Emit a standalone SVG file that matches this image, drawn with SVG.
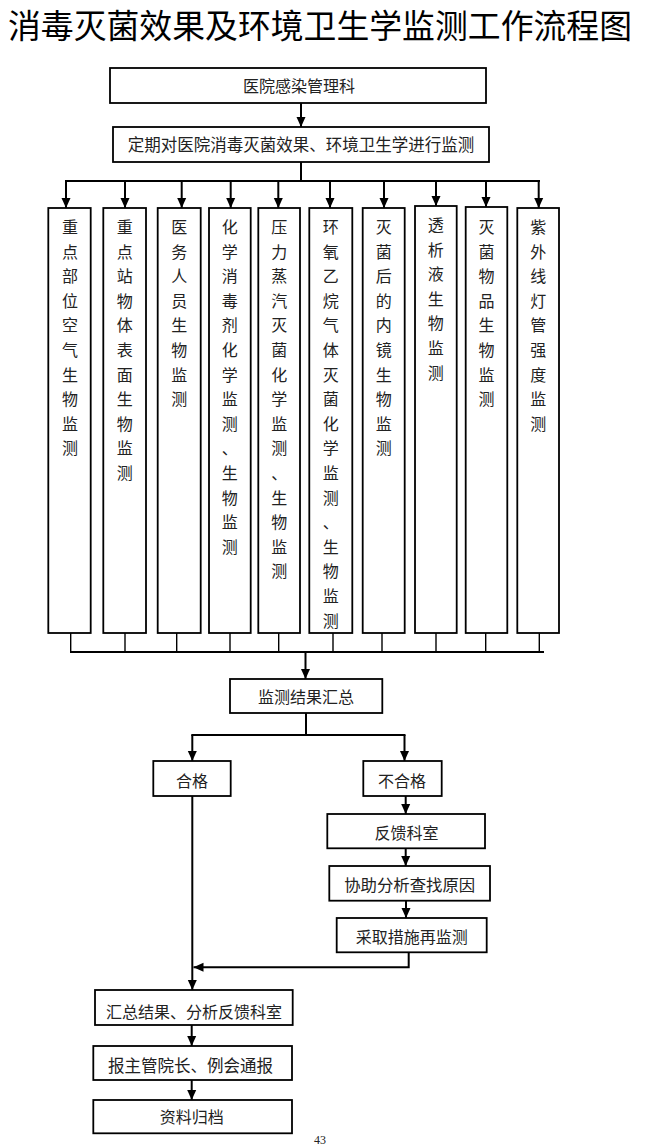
<svg xmlns="http://www.w3.org/2000/svg" width="647" height="1146" viewBox="0 0 647 1146">
<defs>
<marker id="ah" markerUnits="userSpaceOnUse" markerWidth="10" markerHeight="10" refX="10" refY="5" orient="auto"><path d="M0,0.5 L10,5 L0,9.5 z" fill="#000"/></marker>
<style>
.box{fill:#fff;stroke:#000;stroke-width:1.8}
.t{font-family:"Liberation Serif","Noto Sans CJK SC",serif;font-size:16px;fill:#222;text-anchor:middle}
.v{font-family:"Liberation Serif","Noto Sans CJK SC",serif;font-size:16px;fill:#222;text-anchor:middle}
.c{fill:none;stroke:#000;stroke-width:2}
.a{fill:none;stroke:#000;stroke-width:2;marker-end:url(#ah)}
.s{fill:none;stroke:#000;stroke-width:1.4}
</style>
</defs>
<rect width="647" height="1146" fill="#fff"/>
<text x="8" y="38" textLength="624" lengthAdjust="spacingAndGlyphs" style="font-family:'Noto Sans CJK SC',sans-serif;font-size:33px;fill:#000">消毒灭菌效果及环境卫生学监测工作流程图</text>

<g id="connectors">
<line class="a" x1="301" y1="103" x2="301" y2="127"/>
<line class="c" x1="301" y1="162" x2="301" y2="181"/>
<line class="c" x1="65" y1="181" x2="540" y2="181"/>
<line class="a" x1="66" y1="181" x2="66" y2="208"/>
<line class="a" x1="125" y1="181" x2="125" y2="208"/>
<line class="a" x1="181.7" y1="181" x2="181.7" y2="208"/>
<line class="a" x1="230.7" y1="181" x2="230.7" y2="208"/>
<line class="a" x1="278.3" y1="181" x2="278.3" y2="208"/>
<line class="a" x1="330" y1="181" x2="330" y2="208"/>
<line class="a" x1="384" y1="181" x2="384" y2="208"/>
<line class="a" x1="436" y1="181" x2="436" y2="206"/>
<line class="a" x1="486" y1="181" x2="486" y2="207"/>
<line class="a" x1="538.7" y1="181" x2="538.7" y2="208"/>
<line class="s" x1="70.7" y1="633" x2="70.7" y2="652"/>
<line class="s" x1="125" y1="633" x2="125" y2="652"/>
<line class="s" x1="176.7" y1="633" x2="176.7" y2="652"/>
<line class="s" x1="230" y1="633" x2="230" y2="652"/>
<line class="s" x1="278.7" y1="633" x2="278.7" y2="652"/>
<line class="s" x1="333" y1="633" x2="333" y2="652"/>
<line class="s" x1="382" y1="633" x2="382" y2="652"/>
<line class="s" x1="436" y1="633" x2="436" y2="652"/>
<line class="s" x1="485.7" y1="633" x2="485.7" y2="652"/>
<line class="s" x1="539.3" y1="633" x2="539.3" y2="652"/>
<line class="c" x1="70" y1="652" x2="544" y2="652"/>
<line class="a" x1="305.5" y1="652" x2="305.5" y2="679"/>
<line class="c" x1="306" y1="713" x2="306" y2="735"/>
<line class="c" x1="191.3" y1="735" x2="405.5" y2="735"/>
<line class="a" x1="192.3" y1="735" x2="192.3" y2="761"/>
<line class="a" x1="404.5" y1="735" x2="404.5" y2="761"/>
<line class="a" x1="405.7" y1="796" x2="405.7" y2="814"/>
<line class="a" x1="405.7" y1="848" x2="405.7" y2="866"/>
<line class="a" x1="406" y1="901" x2="406" y2="918"/>
<polyline class="a" points="408.7,952 408.7,967.3 193.5,967.3"/>
<line class="a" x1="192.3" y1="796" x2="192.3" y2="990"/>
<line class="a" x1="191.7" y1="1025" x2="191.7" y2="1046"/>
<line class="a" x1="191.7" y1="1080" x2="191.7" y2="1100"/>
</g>

<g id="n-dept"><rect class="box" x="110" y="68" width="376" height="35"/><text class="t" x="299" y="92">医院感染管理科</text></g>
<g id="n-monitor"><rect class="box" x="113" y="127" width="376" height="35"/><text class="t" x="301" y="151" style="font-size:16.5px">定期对医院消毒灭菌效果、环境卫生学进行监测</text></g>

<g id="n-v1"><rect class="box" x="48.3" y="208" width="42.4" height="425"/><text class="v"><tspan x="70" y="233">重</tspan><tspan x="70" dy="24.6">点</tspan><tspan x="70" dy="24.6">部</tspan><tspan x="70" dy="24.6">位</tspan><tspan x="70" dy="24.6">空</tspan><tspan x="70" dy="24.6">气</tspan><tspan x="70" dy="24.6">生</tspan><tspan x="70" dy="24.6">物</tspan><tspan x="70" dy="24.6">监</tspan><tspan x="70" dy="24.6">测</tspan></text></g>
<g id="n-v2"><rect class="box" x="103.3" y="208" width="42.7" height="425"/><text class="v"><tspan x="124.7" y="233">重</tspan><tspan x="124.7" dy="24.6">点</tspan><tspan x="124.7" dy="24.6">站</tspan><tspan x="124.7" dy="24.6">物</tspan><tspan x="124.7" dy="24.6">体</tspan><tspan x="124.7" dy="24.6">表</tspan><tspan x="124.7" dy="24.6">面</tspan><tspan x="124.7" dy="24.6">生</tspan><tspan x="124.7" dy="24.6">物</tspan><tspan x="124.7" dy="24.6">监</tspan><tspan x="124.7" dy="24.6">测</tspan></text></g>
<g id="n-v3"><rect class="box" x="157.7" y="208" width="43" height="425"/><text class="v"><tspan x="179.2" y="233">医</tspan><tspan x="179.2" dy="24.6">务</tspan><tspan x="179.2" dy="24.6">人</tspan><tspan x="179.2" dy="24.6">员</tspan><tspan x="179.2" dy="24.6">生</tspan><tspan x="179.2" dy="24.6">物</tspan><tspan x="179.2" dy="24.6">监</tspan><tspan x="179.2" dy="24.6">测</tspan></text></g>
<g id="n-v4"><rect class="box" x="209" y="208" width="41.7" height="425"/><text class="v"><tspan x="229.8" y="233">化</tspan><tspan x="229.8" dy="24.6">学</tspan><tspan x="229.8" dy="24.6">消</tspan><tspan x="229.8" dy="24.6">毒</tspan><tspan x="229.8" dy="24.6">剂</tspan><tspan x="229.8" dy="24.6">化</tspan><tspan x="229.8" dy="24.6">学</tspan><tspan x="229.8" dy="24.6">监</tspan><tspan x="229.8" dy="24.6">测</tspan><tspan x="229.8" dy="24.6">、</tspan><tspan x="229.8" dy="24.6">生</tspan><tspan x="229.8" dy="24.6">物</tspan><tspan x="229.8" dy="24.6">监</tspan><tspan x="229.8" dy="24.6">测</tspan></text></g>
<g id="n-v5"><rect class="box" x="258.3" y="208" width="41.7" height="425"/><text class="v"><tspan x="279.2" y="233">压</tspan><tspan x="279.2" dy="24.6">力</tspan><tspan x="279.2" dy="24.6">蒸</tspan><tspan x="279.2" dy="24.6">汽</tspan><tspan x="279.2" dy="24.6">灭</tspan><tspan x="279.2" dy="24.6">菌</tspan><tspan x="279.2" dy="24.6">化</tspan><tspan x="279.2" dy="24.6">学</tspan><tspan x="279.2" dy="24.6">监</tspan><tspan x="279.2" dy="24.6">测</tspan><tspan x="279.2" dy="24.6">、</tspan><tspan x="279.2" dy="24.6">生</tspan><tspan x="279.2" dy="24.6">物</tspan><tspan x="279.2" dy="24.6">监</tspan><tspan x="279.2" dy="24.6">测</tspan></text></g>
<g id="n-v6"><rect class="box" x="309.3" y="208" width="43" height="425"/><text class="v"><tspan x="330.8" y="233">环</tspan><tspan x="330.8" dy="24.6">氧</tspan><tspan x="330.8" dy="24.6">乙</tspan><tspan x="330.8" dy="24.6">烷</tspan><tspan x="330.8" dy="24.6">气</tspan><tspan x="330.8" dy="24.6">体</tspan><tspan x="330.8" dy="24.6">灭</tspan><tspan x="330.8" dy="24.6">菌</tspan><tspan x="330.8" dy="24.6">化</tspan><tspan x="330.8" dy="24.6">学</tspan><tspan x="330.8" dy="24.6">监</tspan><tspan x="330.8" dy="24.6">测</tspan><tspan x="330.8" dy="24.6">、</tspan><tspan x="330.8" dy="24.6">生</tspan><tspan x="330.8" dy="24.6">物</tspan><tspan x="330.8" dy="24.6">监</tspan><tspan x="330.8" dy="24.6">测</tspan></text></g>
<g id="n-v7"><rect class="box" x="362.7" y="208" width="42" height="425"/><text class="v"><tspan x="383.7" y="233">灭</tspan><tspan x="383.7" dy="24.6">菌</tspan><tspan x="383.7" dy="24.6">后</tspan><tspan x="383.7" dy="24.6">的</tspan><tspan x="383.7" dy="24.6">内</tspan><tspan x="383.7" dy="24.6">镜</tspan><tspan x="383.7" dy="24.6">生</tspan><tspan x="383.7" dy="24.6">物</tspan><tspan x="383.7" dy="24.6">监</tspan><tspan x="383.7" dy="24.6">测</tspan></text></g>
<g id="n-v8"><rect class="box" x="415" y="206" width="41.7" height="427"/><text class="v"><tspan x="435.8" y="231">透</tspan><tspan x="435.8" dy="24.6">析</tspan><tspan x="435.8" dy="24.6">液</tspan><tspan x="435.8" dy="24.6">生</tspan><tspan x="435.8" dy="24.6">物</tspan><tspan x="435.8" dy="24.6">监</tspan><tspan x="435.8" dy="24.6">测</tspan></text></g>
<g id="n-v9"><rect class="box" x="465.7" y="207" width="41.6" height="426"/><text class="v"><tspan x="486.5" y="233">灭</tspan><tspan x="486.5" dy="24.6">菌</tspan><tspan x="486.5" dy="24.6">物</tspan><tspan x="486.5" dy="24.6">品</tspan><tspan x="486.5" dy="24.6">生</tspan><tspan x="486.5" dy="24.6">物</tspan><tspan x="486.5" dy="24.6">监</tspan><tspan x="486.5" dy="24.6">测</tspan></text></g>
<g id="n-v10"><rect class="box" x="517.3" y="208" width="41.7" height="425"/><text class="v"><tspan x="538.2" y="233">紫</tspan><tspan x="538.2" dy="24.6">外</tspan><tspan x="538.2" dy="24.6">线</tspan><tspan x="538.2" dy="24.6">灯</tspan><tspan x="538.2" dy="24.6">管</tspan><tspan x="538.2" dy="24.6">强</tspan><tspan x="538.2" dy="24.6">度</tspan><tspan x="538.2" dy="24.6">监</tspan><tspan x="538.2" dy="24.6">测</tspan></text></g>

<g id="n-summary"><rect class="box" x="230" y="679" width="152.3" height="34"/><text class="t" x="306" y="703">监测结果汇总</text></g>
<g id="n-pass"><rect class="box" x="153.3" y="761" width="77.4" height="35"/><text class="t" x="192" y="786.5">合格</text></g>
<g id="n-fail"><rect class="box" x="363.3" y="761" width="78.4" height="35"/><text class="t" x="402" y="786.5">不合格</text></g>
<g id="n-feedback"><rect class="box" x="327.3" y="814" width="157.7" height="34.3"/><text class="t" x="406.5" y="839">反馈科室</text></g>
<g id="n-analyze"><rect class="box" x="329.3" y="866" width="160.7" height="34.7"/><text class="t" x="409.7" y="891" style="font-size:16.4px">协助分析查找原因</text></g>
<g id="n-measure"><rect class="box" x="336.7" y="918" width="150" height="34.3"/><text class="t" x="411.7" y="942.5">采取措施再监测</text></g>
<g id="n-result"><rect class="box" x="95" y="990" width="197.7" height="35"/><text class="t" x="194" y="1017.5">汇总结果、分析反馈科室</text></g>
<g id="n-report"><rect class="box" x="93.3" y="1046" width="198.7" height="34"/><text class="t" x="190.5" y="1072" style="font-size:16.5px">报主管院长、例会通报</text></g>
<g id="n-archive"><rect class="box" x="93.3" y="1100" width="198.7" height="33.3"/><text class="t" x="191.7" y="1122.5">资料归档</text></g>
<text x="320" y="1144" style="font-family:'Liberation Serif',serif;font-size:12px;text-anchor:middle;fill:#222">43</text>
</svg>
